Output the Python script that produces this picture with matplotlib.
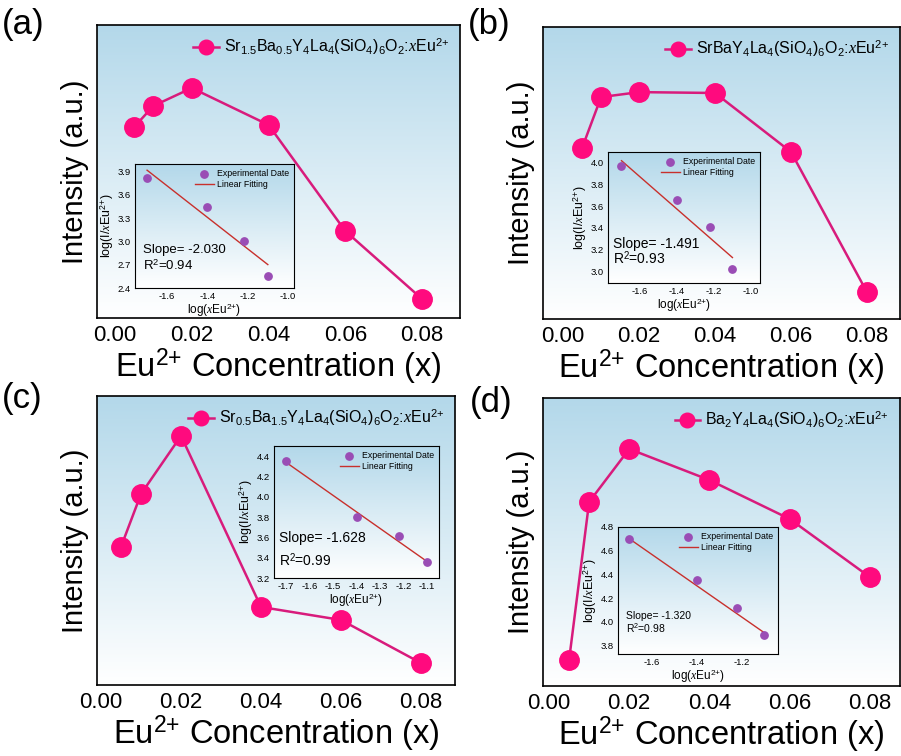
import numpy as np
import matplotlib.pyplot as plt
from matplotlib.colors import LinearSegmentedColormap

plt.rcParams['font.family'] = ['Liberation Sans', 'DejaVu Sans']
plt.rcParams['mathtext.fontset'] = 'custom'
plt.rcParams['mathtext.rm'] = 'Liberation Sans'
plt.rcParams['mathtext.it'] = 'Liberation Serif:italic'
plt.rcParams['mathtext.bf'] = 'Liberation Sans:bold'
plt.rcParams['axes.unicode_minus'] = False

W, H = 901, 756

# Eu2+ concentration and normalised emission intensity
conc = [0.005, 0.01, 0.02, 0.04, 0.06, 0.08]
int_a = [0.652, 0.724, 0.785, 0.659, 0.297, 0.065]
int_b = [0.586, 0.760, 0.777, 0.774, 0.572, 0.092]
int_c = [0.478, 0.661, 0.862, 0.270, 0.225, 0.076]
int_d = [0.090, 0.639, 0.823, 0.715, 0.580, 0.378]

# log(x) vs log(I/x) for the quenching fits
log_x = [-1.70, -1.40, -1.22, -1.10]
logI_a = [3.82, 3.45, 3.01, 2.55]
logI_b = [3.97, 3.66, 3.41, 3.02]
logI_c = [4.35, 3.80, 3.61, 3.36]
logI_d = [4.70, 4.35, 4.12, 3.89]
slopes = [-2.030, -1.491, -1.628, -1.320]
intercepts = [0.469, 1.485, 1.572, 2.456]
r2 = ['0.94', '0.93', '0.99', '0.98']

EU = r'Eu$^{2{+}}$'
names = [
    r'Sr$_{1.5}$Ba$_{0.5}$Y$_4$La$_4$(SiO$_4$)$_6$O$_2$:$\mathit{x}$Eu$^{2{+}}$',
    r'SrBaY$_4$La$_4$(SiO$_4$)$_6$O$_2$:$\mathit{x}$Eu$^{2{+}}$',
    r'Sr$_{0.5}$Ba$_{1.5}$Y$_4$La$_4$(SiO$_4$)$_6$O$_2$:$\mathit{x}$Eu$^{2{+}}$',
    r'Ba$_2$Y$_4$La$_4$(SiO$_4$)$_6$O$_2$:$\mathit{x}$Eu$^{2{+}}$',
]
panel_tags = ['(a)', '(b)', '(c)', '(d)']
tag_pos = [(2, 34), (468, 34), (2, 408), (470, 412)]

PINK = '#FF0A7E'
LINE = '#D81B7C'
PURPLE = '#9A4DB5'
RED = '#C8302C'

grad = LinearSegmentedColormap.from_list('bg', ['#FFFFFF', '#B3D8EA'])


def px_axes(fig, l, t, r, b):
    return fig.add_axes([l / W, 1 - b / H, (r - l) / W, (b - t) / H])


def gradient(ax):
    g = np.linspace(0, 1, 256).reshape(-1, 1)
    ax.imshow(g, cmap=grad, origin='lower', aspect='auto',
              extent=[0, 1, 0, 1], transform=ax.transAxes, zorder=0)


fig = plt.figure(figsize=(W / 100, H / 100), dpi=100)

main_boxes = [(97, 25, 460, 318), (543, 27, 900, 319),
              (97, 396, 455, 685), (543, 398, 900, 686)]
xlims = [(-0.0047, 0.0899), (-0.0053, 0.0887),
         (-0.001, 0.0885), (-0.0015, 0.0875)]
intens = [int_a, int_b, int_c, int_d]

inset_boxes = [(135, 164, 294, 288), (608, 152, 760, 283),
               (274, 446, 439, 578), (618, 527, 778, 654)]
inset_xlim = [(-1.76, -0.97), (-1.773, -0.951), (-1.751, -1.049), (-1.751, -1.04)]
inset_ylim = [(2.4, 4.0), (2.89, 4.1), (3.2, 4.5), (3.73, 4.8)]
inset_xticks = [[-1.6, -1.4, -1.2, -1.0], [-1.6, -1.4, -1.2, -1.0],
                [-1.7, -1.6, -1.5, -1.4, -1.3, -1.2, -1.1], [-1.6, -1.4, -1.2]]
inset_yticks = [np.arange(2.4, 3.95, 0.3), np.arange(3.0, 4.05, 0.2),
                np.arange(3.2, 4.45, 0.2), np.arange(3.8, 4.85, 0.2)]
logIs = [logI_a, logI_b, logI_c, logI_d]
slope_pos = [(0.05, 0.28, 0.145, 9.5), (0.03, 0.27, 0.145, 10),
             (0.03, 0.27, 0.09, 10), (0.05, 0.275, 0.165, 7.5)]

for i in range(4):
    ax = px_axes(fig, *main_boxes[i])
    gradient(ax)
    ax.plot(conc, intens[i], color=LINE, lw=1.8, marker='o', ms=14,
            mfc=PINK, mec=PINK, label=names[i], zorder=3)
    ax.set_xlim(*xlims[i])
    ax.set_ylim(0, 1)
    ax.set_xticks([0.0, 0.02, 0.04, 0.06, 0.08])
    ax.set_xticklabels(['0.00', '0.02', '0.04', '0.06', '0.08'])
    ax.set_yticks([])
    ax.tick_params(axis='x', length=0, labelsize=16, pad=5)
    for s in ax.spines.values():
        s.set_linewidth(1.2)
    ax.set_xlabel(EU + ' Concentration (x)', fontsize=23.5, labelpad=1)
    ax.set_ylabel('Intensity (a.u.)', fontsize=21, labelpad=6)
    ax.legend(loc='upper right', frameon=False, fontsize=11.5, handlelength=1.6,
              handletextpad=0.3, borderaxespad=0.3, markerscale=0.75)
    fig.text(tag_pos[i][0] / W, 1 - tag_pos[i][1] / H, panel_tags[i],
             fontsize=25, ha='left', va='baseline')

    ins = px_axes(fig, *inset_boxes[i])
    gradient(ins)
    ins.scatter(log_x, logIs[i], s=28, color=PURPLE, zorder=3,
                label='Experimental Date')
    fx = np.array([log_x[0], log_x[-1]])
    ins.plot(fx, slopes[i] * fx + intercepts[i], color=RED, lw=1.0, zorder=2,
             label='Linear Fitting')
    ins.set_xlim(*inset_xlim[i])
    ins.set_ylim(*inset_ylim[i])
    ins.set_xticks(inset_xticks[i])
    ins.set_yticks(inset_yticks[i])
    ins.xaxis.set_major_formatter(plt.FormatStrFormatter('%.1f'))
    ins.yaxis.set_major_formatter(plt.FormatStrFormatter('%.1f'))
    ins.tick_params(labelsize=6.8, length=0, pad=3)
    for s in ins.spines.values():
        s.set_linewidth(0.8)
    ins.set_xlabel(r'log($\mathit{x}$Eu$^{2{+}}$)', fontsize=8.5, labelpad=0)
    ins.set_ylabel(r'log(I/$\mathit{x}$Eu$^{2{+}}$)', fontsize=9, labelpad=1)
    ins.legend(loc='upper right', frameon=False, fontsize=6.3, handlelength=2.2,
               handletextpad=0.3, borderaxespad=0.2, labelspacing=0.2)
    sx, sy1, sy2, fs = slope_pos[i]
    ins.text(sx, sy1, 'Slope= %.3f' % slopes[i], transform=ins.transAxes,
             fontsize=fs, va='baseline')
    ins.text(sx, sy2, r'R$^2$=' + r2[i], transform=ins.transAxes,
             fontsize=fs, va='baseline')

fig.savefig('out.png', dpi=100)
